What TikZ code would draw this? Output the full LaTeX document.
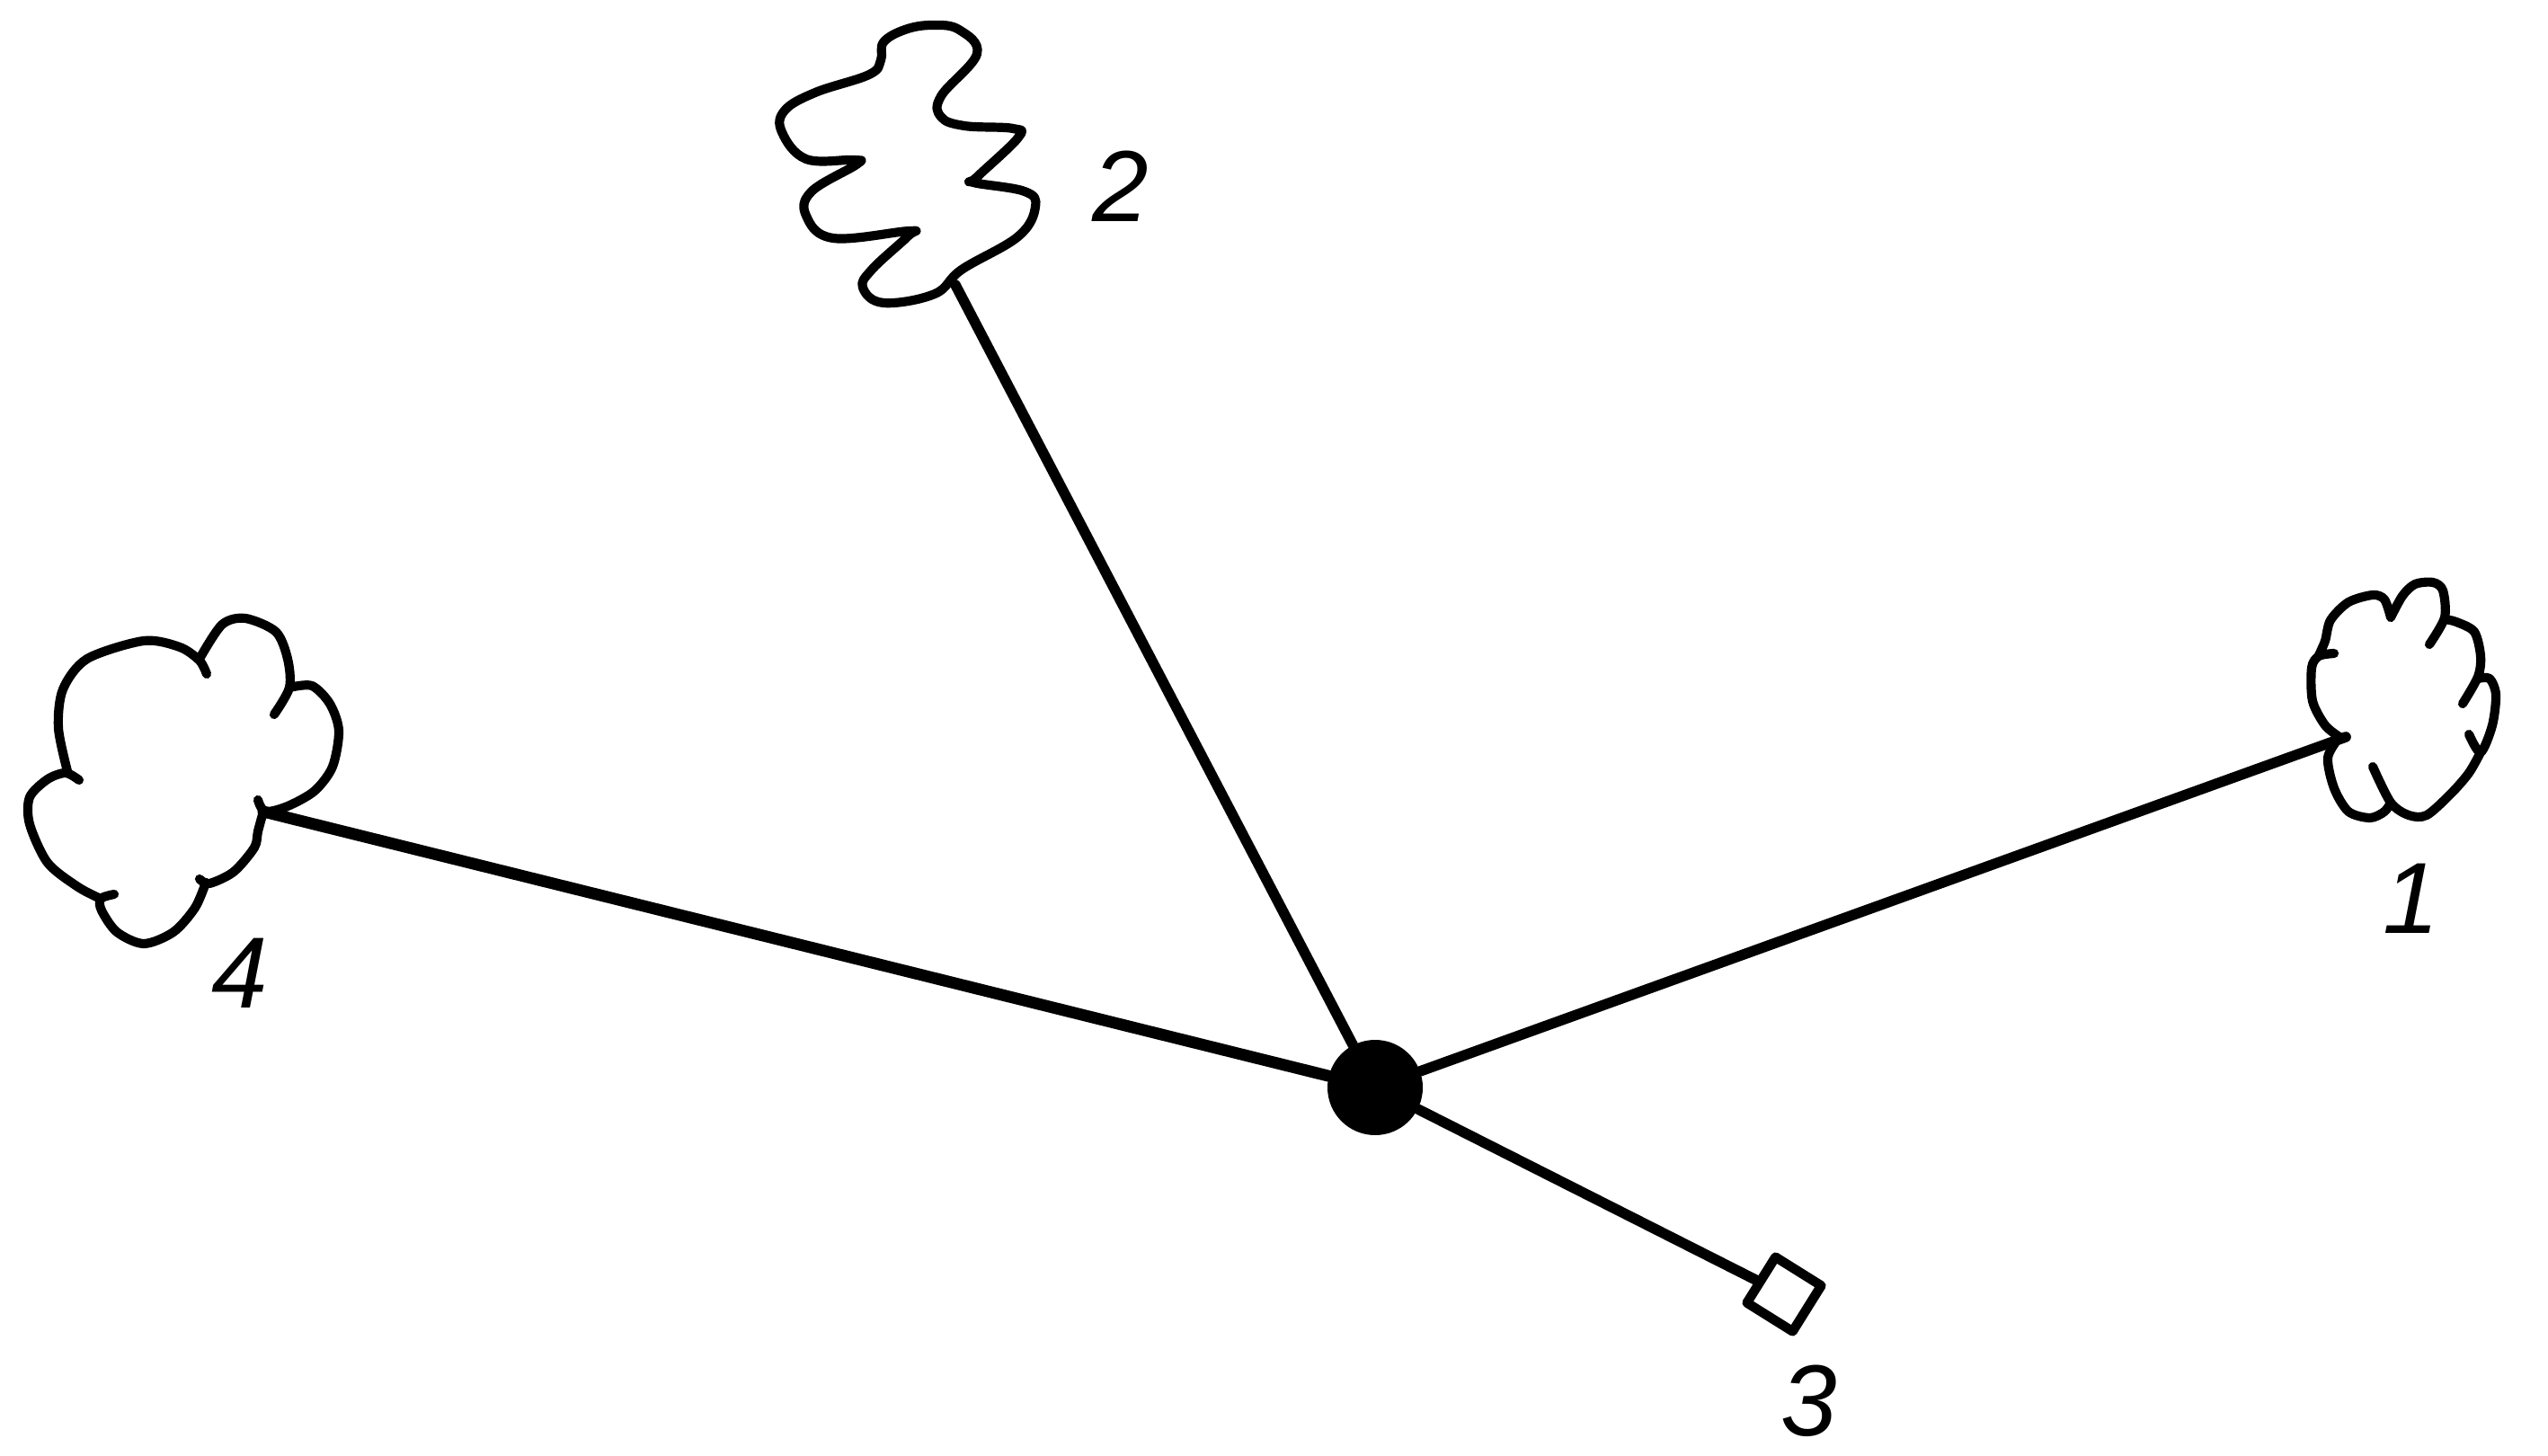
\documentclass[tikz,border=0pt]{standalone}
\usepackage{fontspec}
\setsansfont{Liberation Sans}
\usepackage{tikz}
\usetikzlibrary{positioning}

\begin{document}
\begin{tikzpicture}[line cap=round,line join=round,
    cloudline/.style={line width=2.9pt},
    link/.style={line width=3.3pt},
    hub/.style={circle,fill=black,inner sep=0pt,minimum size=1.06cm},
    term/.style={draw,line width=3pt,rectangle,inner sep=0pt,minimum size=0.6cm,rotate=-32},
    lbl/.style={inner sep=0pt,font=\fontsize{32}{36}\selectfont\sffamily\itshape}]
  \useasboundingbox (0,0) rectangle (28.35,16.19);
  % wavy cloud 2
  \draw[cloudline] plot[smooth cycle,tension=0.65] coordinates {(10.37,15.91) (10.67,15.86) (10.87,15.59) (10.47,15.12) (10.47,14.89) (10.73,14.79) (11.27,14.76) (11.33,14.66) (10.87,14.22) (10.83,14.16) (11.40,14.06) (11.52,13.89) (11.33,13.56) (10.70,13.19) (10.40,12.92) (9.83,12.82) (9.60,12.99) (9.70,13.19) (10.10,13.56) (10.12,13.62) (9.27,13.54) (8.97,13.79) (9.03,14.06) (9.53,14.36) (9.50,14.41) (8.97,14.42) (8.70,14.72) (8.73,14.96) (9.07,15.16) (9.67,15.36) (9.80,15.52) (9.83,15.72) (10.07,15.86)};
  % scalloped cloud 4
  \draw[cloudline] plot[smooth] coordinates {(0.75,7.61) (0.65,8.09) (0.70,8.52) (0.97,8.86) (1.60,9.06) (2.00,8.99) (2.22,8.84) (2.30,8.69)}
    plot[smooth] coordinates {(2.22,8.86) (2.47,9.24) (2.73,9.31) (3.07,9.16) (3.20,8.86) (3.22,8.54) (3.05,8.24)}
    plot[smooth] coordinates {(3.22,8.54) (3.47,8.56) (3.67,8.36) (3.77,8.06) (3.70,7.66) (3.50,7.39) (3.20,7.22) (2.95,7.16) (2.87,7.29)}
    plot[smooth] coordinates {(2.93,7.16) (2.87,6.94) (2.83,6.76) (2.60,6.49) (2.33,6.36) (2.22,6.41)}
    plot[smooth] coordinates {(2.29,6.37) (2.17,6.09) (1.93,5.82) (1.60,5.69) (1.30,5.82) (1.13,6.06) (1.12,6.19) (1.27,6.24)}
    plot[smooth] coordinates {(1.12,6.19) (0.87,6.32) (0.53,6.59) (0.33,7.02) (0.33,7.32) (0.53,7.52) (0.73,7.59) (0.88,7.51)};
  % scalloped cloud 1
  \draw[cloudline] plot[smooth] coordinates {(26.60,9.32) (26.73,9.56) (26.87,9.69) (27.07,9.71) (27.18,9.62) (27.20,9.32) (27.03,9.02)}
    plot[smooth] coordinates {(27.20,9.30) (27.33,9.27) (27.53,9.16) (27.60,8.89) (27.57,8.66) (27.40,8.36)}
    plot[smooth] coordinates {(27.57,8.64) (27.70,8.64) (27.77,8.46) (27.73,8.12) (27.60,7.82) (27.47,8.02)}
    plot[smooth] coordinates {(27.60,7.82) (27.47,7.59) (27.27,7.36) (27.00,7.12) (26.80,7.12) (26.60,7.26) (26.40,7.66)}
    plot[smooth] coordinates {(26.60,7.26) (26.53,7.16) (26.37,7.09) (26.13,7.16) (25.97,7.42) (25.90,7.76) (26.03,7.99)}
    plot[smooth] coordinates {(26.03,7.99) (25.87,8.12) (25.73,8.39) (25.72,8.76) (25.80,8.89) (25.97,8.92)}
    plot[smooth] coordinates {(25.80,8.90) (25.87,9.06) (25.93,9.29) (26.13,9.49) (26.40,9.57) (26.53,9.52) (26.60,9.32)};

  \coordinate (c2) at (10.63,13.02);
  \coordinate (c4) at (2.93,7.16);
  \coordinate (c1) at (26.10,7.99);
  \node[hub] (hub) at (15.30,4.09) {};
  \node[term] (sq) at (19.85,1.79) {};

  \draw[link] (hub) -- (c2);
  \draw[link,line width=3.7pt] (hub) -- (c4);
  \draw[link] (hub) -- (c1);
  \draw[link] (hub) -- (sq);

  \node[lbl] (l2) at (12.47,14.12) {2};
  \node[lbl] (l4) at (2.67,5.36) {4};
  \node[lbl] (l1) at (26.83,6.19) {1};
  \node[lbl] (l3) at (20.13,0.60) {3};
\end{tikzpicture}
\end{document}
